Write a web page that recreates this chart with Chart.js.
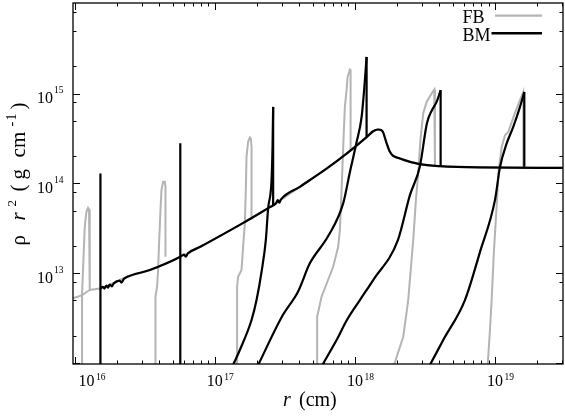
<!DOCTYPE html>
<html><head><meta charset="utf-8">
<script src="https://cdn.jsdelivr.net/npm/chart.js@4.4.1/dist/chart.umd.min.js"></script>
<style>html,body{margin:0;padding:0;background:#fff;}#wrap{width:565px;height:420px;position:relative;}</style>
</head><body><div id="wrap"><canvas id="c" width="565" height="420"></canvas></div>
<script>
// ---- axis ticks / labels ----
const xTickValues = [1e16, 1e17, 1e18, 1e19];
const xTickExponents = ['16', '17', '18', '19'];
const yTickValues = [1e13, 1e14, 1e15];
const yTickExponents = ['13', '14', '15'];
const xMinorMultipliers = [2, 3, 4, 5, 6, 7, 8, 9];
const yMinorMultipliers = [2, 5, 8];
const seriesNames = ['FB', 'BM'];

// ---- ambient medium profile ----
const ambBM_r = [1.53e16,1.585e16,1.63e16,1.684e16,1.729e16,1.778e16,1.838e16,1.899e16,2.096e16,2.156e16,2.239e16,2.352e16,3.435e16,5.623e16,6.005e16,6.206e16,6.414e16,7.814e16,1.585e17,2.471e17,2.727e17,2.818e17,2.888e17,2.961e17,4.047e17,6.31e17,8.77e17,1.218e18,1.351e18,1.46e18,1.546e18,1.585e18,1.684e18,1.778e18,1.868e18,2.096e18,2.352e18,2.913e18,4.047e18,7.814e18,3.06e19];
const ambBM_v = [6.81e12,7.08e12,6.78e12,7.32e12,6.95e12,7.51e12,7.17e12,7.74e12,8.32e12,7.9e12,8.64e12,9.10e12,1.088e13,1.517e13,1.618e13,1.537e13,1.66e13,1.96e13,3.62e13,5.45e13,5.97e13,6.52e13,6.12e13,6.61e13,9.17e13,1.468e14,2.154e14,3.294e14,3.81e14,3.98e14,3.91e14,3.745e14,2.804e14,2.244e14,2.037e14,1.896e14,1.783e14,1.638e14,1.557e14,1.506e14,1.491e14];
const ambFB_r = [9.72e15,1.128e16,1.28e16,1.509e16,2.352e16,3.435e16,5.623e16,7.814e16,1.585e17,2.471e17,4.047e17,6.31e17,8.77e17,1.218e18,1.351e18,1.46e18,1.546e18,1.585e18,1.684e18,1.778e18,1.868e18,2.096e18,2.913e18,4.047e18,7.814e18,3.06e19];
const ambFB_v = [5.28e12,5.74e12,6.52e12,6.78e12,9.1e12,1.088e13,1.517e13,1.96e13,3.62e13,5.45e13,9.17e13,1.468e14,2.154e14,3.294e14,3.81e14,3.98e14,3.91e14,3.745e14,2.804e14,2.244e14,2.037e14,1.896e14,1.638e14,1.557e14,1.506e14,1.491e14];

// ---- FB snapshots ----
const fb1_r = [1.128e16,1.128e16,1.146e16,1.179e16,1.212e16,1.245e16,1.265e16,1.28e16,1.28e16];
const fb1_v = [5e11,5.74e12,1.088e13,3.294e13,4.835e13,5.357e13,5.14e13,4.256e13,6.52e12];
const fb2_r = [3.771e16,3.771e16,3.872e16,3.936e16,4.001e16,4.094e16,4.162e16,4.273e16,4.394e16,4.445e16,4.445e16];
const fb2_v = [5e11,5.5e12,7.1e12,1.088e13,2.154e13,5.05e13,8.43e13,1.042e14,1.042e14,9.17e13,1.529e13];
const fb3_r = [1.443e17,1.443e17,1.467e17,1.551e17,1.593e17,1.638e17,1.665e17,1.684e17,1.729e17,1.778e17,1.807e17,1.829e17,1.829e17];
const fb3_v = [5e11,7.1e12,9.17e12,1.088e13,1.975e13,3.594e13,8.43e13,1.975e14,2.9e14,3.244e14,3.162e14,2.551e14,3.91e13];
const fb4_r = [5.378e17,5.378e17,5.783e17,6.998e17,7.6e17,7.814e17,8.035e17,8.168e17,8.345e17,8.483e17,8.723e17,8.868e17,9.21e17,9.318e17,9.318e17];
const fb4_v = [5e11,3.296e12,5.5e12,1.184e13,1.975e13,3.027e13,8.43e13,1.668e14,3.91e14,7.1e14,1.088e15,1.529e15,1.848e15,1.815e15,2.344e14];
const fb5_r = [1.899e18,2.096e18,2.213e18,2.403e18,2.609e18,2.727e18,2.833e18,2.937e18,3.075e18,3.252e18,3.531e18,3.685e18,3.728e18];
const fb5_v = [9.5e11,1.517e12,1.96e12,5.05e12,2.344e13,6.52e13,1.302e14,3.028e14,6.04e14,8.066e14,1e15,1.108e15,1.557e14];
const fb6_r = [8.868e18,9.21e18,9.47e18,9.84e18,1.034e19,1.056e19,1.117e19,1.179e19,1.245e19,1.413e19,1.593e19,1.593e19];
const fb6_v = [9.5e11,2.344e12,5.05e12,1.815e13,6.52e13,1.292e14,2.551e14,3.44e14,3.745e14,6.52e14,1.042e15,1.529e14];

// ---- BM snapshots (last point = foot of the shock jump) ----
const bm1_r = [1.526e16,1.526e16,1.526e16];
const bm1_v = [5e11,1.29e14,6.81e12];
const bm2_r = [5.67e16,5.67e16,5.67e16];
const bm2_v = [5e11,2.804e14,1.53e13];
const bm3_r = [1.351e17,1.509e17,1.829e17,1.986e17,2.166e17,2.313e17,2.403e17,2.541e17,2.583e17,2.609e17,2.609e17];
const bm3_v = [9.58e11,1.405e12,3.028e12,5.05e12,1.088e13,2.344e13,5.27e13,1.088e14,2.551e14,7.1e14,5.74e13];
const bm4_r = [2.039e17,3.06e17,3.916e17,4.77e17,6.447e17,8.249e17,9.21e17,1.028e18,1.117e18,1.179e18,1.212e18,1.212e18];
const bm4_v = [9.58e11,3.44e12,6.2e12,1.292e13,2.597e13,5.995e13,1.335e14,2.877e14,5.5e14,1.405e15,2.551e15,3.3e14];
const bm5_r = [5.86e17,7.402e17,8.77e17,1.086e18,1.351e18,2.028e18,2.471e18,2.913e18,3.268e18,3.548e18,3.833e18,4.094e18,4.094e18];
const bm5_v = [9.58e11,1.815e12,3.028e12,5.05e12,8.42e12,2.344e13,7.41e13,1.557e14,4.677e14,6.52e14,8.066e14,1.088e15,1.557e14];
const bm6_r = [3.434e18,4.273e18,6.105e18,7.814e18,1e19,1.086e19,1.212e19,1.351e19,1.509e19,1.62e19,1.62e19];
const bm6_v = [9.58e11,1.815e12,5.05e12,1.724e13,6.52e13,1.517e14,2.783e14,4.256e14,7.1e14,1.042e15,1.529e14];

const FB_COLOR = '#b4b4b4';
const BM_COLOR = '#000000';

function pts(r, v) { return r.map((x, i) => ({ x: x, y: v[i] })); }
function ds(data, model, smooth) {
  const black = model === 'BM';
  const o = {
    label: model,
    data: data,
    borderColor: black ? BM_COLOR : FB_COLOR,
    borderWidth: black ? 2.2 : 2,
    pointRadius: 0,
    fill: false,
    order: black ? 0 : 1,
    tension: 0
  };
  if (smooth) { o.cubicInterpolationMode = 'monotone'; o.tension = 0.4; }
  return o;
}
// BM snapshot: smooth rising profile up to the shock, then straight jump down
function bmSnapshot(r, v) {
  const p = pts(r, v);
  const n = p.length;
  if (n <= 3) return [ds(p, 'BM', false)];
  return [ds(p.slice(0, n - 1), 'BM', true), ds(p.slice(n - 2), 'BM', false)];
}

const datasets = [].concat(
  [ds(pts(ambBM_r, ambBM_v), 'BM', true)],
  bmSnapshot(bm1_r, bm1_v), bmSnapshot(bm2_r, bm2_v), bmSnapshot(bm3_r, bm3_v),
  bmSnapshot(bm4_r, bm4_v), bmSnapshot(bm5_r, bm5_v), bmSnapshot(bm6_r, bm6_v),
  [ds(pts(ambFB_r, ambFB_v), 'FB', true)],
  [ds(pts(fb1_r, fb1_v), 'FB', false), ds(pts(fb2_r, fb2_v), 'FB', false),
   ds(pts(fb3_r, fb3_v), 'FB', false), ds(pts(fb4_r, fb4_v), 'FB', false),
   ds(pts(fb5_r, fb5_v), 'FB', false), ds(pts(fb6_r, fb6_v), 'FB', false)]
);

const SERIF = '"Liberation Serif", "Times New Roman", serif';

const decorPlugin = {
  id: 'decor',
  afterDraw(chart) {
    const { ctx, chartArea: a, scales: { x, y } } = chart;
    ctx.save();
    ctx.strokeStyle = '#000';
    ctx.lineWidth = 1.3;
    ctx.strokeRect(a.left, a.top, a.right - a.left, a.bottom - a.top);
    ctx.lineWidth = 1;
    function seg(x1, y1, x2, y2) { ctx.beginPath(); ctx.moveTo(x1, y1); ctx.lineTo(x2, y2); ctx.stroke(); }
    // x ticks (bottom and top, inward)
    const xDecades = [1e15, 1e16, 1e17, 1e18, 1e19];
    xDecades.forEach(d => {
      [1].concat(xMinorMultipliers).forEach(k => {
        const v = k * d;
        if (v < x.min || v > x.max) return;
        const px = Math.round(x.getPixelForValue(v)) + 0.5;
        const len = k === 1 ? 7 : 3.5;
        seg(px, a.bottom, px, a.bottom - len);
        seg(px, a.top, px, a.top + len);
      });
    });
    const yDecades = [1e11, 1e12, 1e13, 1e14, 1e15];
    yDecades.forEach(d => {
      [1].concat(yMinorMultipliers).forEach(k => {
        const v = k * d;
        if (v < y.min || v > y.max) return;
        const py = Math.round(y.getPixelForValue(v)) + 0.5;
        const len = k === 1 ? 7 : 3.5;
        seg(a.left, py, a.left + len, py);
        seg(a.right, py, a.right - len, py);
      });
    });
    // x tick labels
    ctx.fillStyle = '#000';
    ctx.textBaseline = 'alphabetic';
    xTickValues.forEach((v, i) => {
      let px = x.getPixelForValue(v);
      px = Math.max(px, 86.5);
      ctx.font = '16px ' + SERIF;
      ctx.textAlign = 'center';
      ctx.fillText('10', px, 386);
      const w = ctx.measureText('10').width;
      ctx.font = '9.5px ' + SERIF;
      ctx.textAlign = 'left';
      ctx.fillText(xTickExponents[i], px + w / 2 + 1.5, 379.5);
    });
    // y tick labels
    yTickValues.forEach((v, i) => {
      const py = y.getPixelForValue(v);
      ctx.font = '9.5px ' + SERIF;
      ctx.textAlign = 'right';
      ctx.fillText(yTickExponents[i], 63.5, py - 0.5);
      const ws = ctx.measureText(yTickExponents[i]).width;
      ctx.font = '16px ' + SERIF;
      ctx.fillText('10', 63.5 - ws - 1, py + 9.5);
    });
    // x axis title
    ctx.textAlign = 'left';
    ctx.font = 'italic 20px ' + SERIF;
    ctx.fillText('r', 283, 406);
    ctx.font = '20px ' + SERIF;
    ctx.fillText('(cm)', 299, 406);
    // y axis title (rotated): [text, font, baseline shift, offset along text from bottom]
    const parts = [
      ['ρ', '21px', 0, 0],
      ['r', 'italic 21px', 0, 25],
      ['2', '13px', -9.5, 39],
      ['(', '21px', 0, 54],
      ['g', '21px', 0, 66],
      ['c', '21px', 0, 88],
      ['m', '21px', 0, 97.5],
      ['-', '14px', -9.5, 119],
      ['1', '14px', -9.5, 125],
      [')', '21px', 0, 136]
    ];
    ctx.save();
    ctx.translate(25, 245.5);
    ctx.rotate(-Math.PI / 2);
    parts.forEach(p => {
      ctx.font = p[1] + ' ' + SERIF;
      ctx.textAlign = 'left';
      ctx.fillText(p[0], p[3], p[2]);
    });
    ctx.restore();
    // legend
    ctx.font = '18px ' + SERIF;
    ctx.textAlign = 'left';
    ctx.fillText(seriesNames[0], 462.5, 22.5);
    ctx.fillText(seriesNames[1], 462.5, 40.5);
    ctx.lineWidth = 2.2;
    ctx.strokeStyle = FB_COLOR;
    seg(495, 15.7, 542, 15.7);
    ctx.strokeStyle = BM_COLOR;
    ctx.lineWidth = 2.4;
    seg(491.5, 33.3, 542, 33.3);
    ctx.restore();
  }
};

new Chart(document.getElementById('c'), {
  type: 'line',
  data: { datasets: datasets },
  options: {
    responsive: false,
    animation: false,
    devicePixelRatio: 1,
    layout: { padding: { left: 73, right: 2, top: 3, bottom: 56 } },
    plugins: { legend: { display: false }, tooltip: { enabled: false } },
    scales: {
      x: { type: 'logarithmic', display: false, min: 9.72e15, max: 3.06e19 },
      y: { type: 'logarithmic', display: false, min: 9.82e11, max: 1.015e16 }
    }
  },
  plugins: [decorPlugin]
});
</script>
</body></html>
